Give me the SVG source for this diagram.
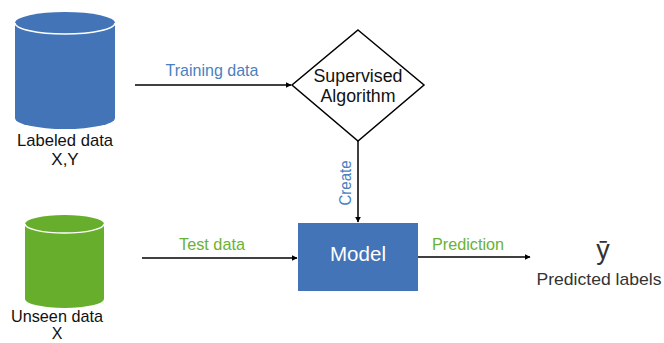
<svg xmlns="http://www.w3.org/2000/svg" width="664" height="343" viewBox="0 0 664 343">
<defs>
<style>
text{font-family:"Liberation Sans",Arial,sans-serif;}
.lbl{font-size:17px;fill:#111;text-anchor:middle;}
.blue{fill:#4a7fc1;font-size:17px;text-anchor:middle;}
.green{fill:#6ab233;font-size:17px;text-anchor:middle;}
.edge{stroke:#000;stroke-width:1.5;fill:none;marker-end:url(#ah);}
</style>
<marker id="ah" viewBox="0 0 10 10" refX="9" refY="5" markerWidth="6" markerHeight="6" markerUnits="userSpaceOnUse" orient="auto"><path d="M0,0 L10,5 L0,10 Z" fill="#000"/></marker>
</defs>
<rect width="664" height="343" fill="#fff"/>
<g id="labeled-data">
<path d="M15,23 L15,118 A50,11 0 0 0 115,118 L115,23 A50,11 0 0 0 15,23 Z" fill="#4374b7"/>
<path d="M15,23 A50,11 0 0 0 115,23" fill="none" stroke="#fff" stroke-width="1.5"/>
<text class="lbl" x="65" y="146" textLength="96" lengthAdjust="spacingAndGlyphs">Labeled data</text>
<text class="lbl" x="65" y="165">X,Y</text>
</g>
<g id="unseen-data">
<path d="M25,224 L25,299 A39.5,9 0 0 0 104,299 L104,224 A39.5,9 0 0 0 25,224 Z" fill="#67ae2c"/>
<path d="M25,224 A39.5,9 0 0 0 104,224" fill="none" stroke="#fff" stroke-width="1.5"/>
<text class="lbl" x="57" y="322" textLength="92" lengthAdjust="spacingAndGlyphs">Unseen data</text>
<text class="lbl" x="57" y="339" style="font-size:16px">X</text>
</g>
<g id="supervised-algorithm">
<polygon points="358,30 424,85 358,141 292,85" fill="#fff" stroke="#000" stroke-width="1.5"/>
<text class="lbl" x="358" y="82" style="font-size:18px" textLength="89" lengthAdjust="spacingAndGlyphs">Supervised</text>
<text class="lbl" x="358" y="102" style="font-size:18px" textLength="75" lengthAdjust="spacingAndGlyphs">Algorithm</text>
</g>
<g id="model">
<rect x="298" y="223" width="120" height="68" fill="#4374b7"/>
<text x="358" y="261" fill="#fff" text-anchor="middle" style="font-size:20px" textLength="56" lengthAdjust="spacingAndGlyphs">Model</text>
</g>
<g id="predicted-labels">
<text x="603" y="259" fill="#333" text-anchor="middle" style="font-size:27px">ȳ</text>
<text x="599" y="285" fill="#333" text-anchor="middle" style="font-size:17px" textLength="125" lengthAdjust="spacingAndGlyphs">Predicted labels</text>
</g>
<g id="connectors">
<path class="edge" d="M135,85 L291,85"/>
<text class="blue" x="212" y="76" textLength="93" lengthAdjust="spacingAndGlyphs">Training data</text>
<path class="edge" d="M358,141 L358,222"/>
<text class="blue" transform="translate(351,183) rotate(-90)" x="0" y="0" style="font-size:16px" textLength="45" lengthAdjust="spacingAndGlyphs">Create</text>
<path class="edge" d="M142,258 L297,258"/>
<text class="green" x="212" y="250" textLength="66" lengthAdjust="spacingAndGlyphs">Test data</text>
<path class="edge" d="M418,257 L530,257"/>
<text class="green" x="468" y="250" textLength="72" lengthAdjust="spacingAndGlyphs">Prediction</text>
</g>
</svg>
